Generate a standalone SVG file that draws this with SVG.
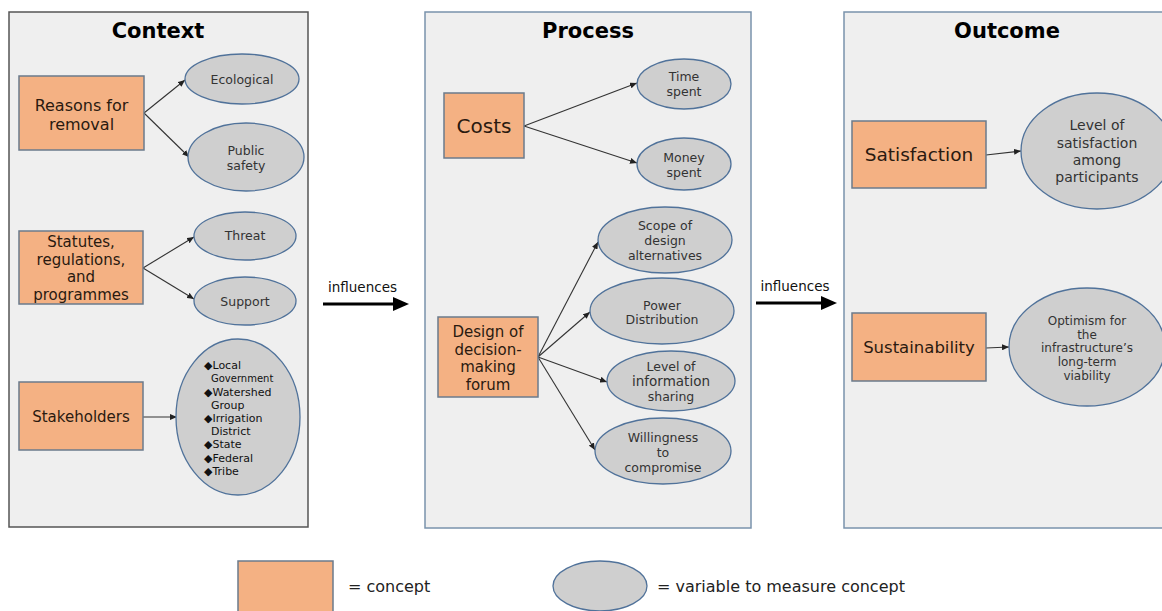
<svg xmlns="http://www.w3.org/2000/svg" width="1162" height="611" viewBox="0 0 1162 611">
<defs>
<style>
.panel{fill:#efefef;stroke:#7a93ac;stroke-width:1.5}
.panelc{fill:#efefef;stroke:#555;stroke-width:1.5}
.title{font-family:"DejaVu Sans",Verdana,sans-serif;font-weight:bold;font-size:21px;fill:#000;text-anchor:middle}
.concept{fill:#f4b183;stroke:#6b7b8c;stroke-width:1.5}
.var{fill:#cfcfcf;stroke:#50729a;stroke-width:1.3}
.ct{font-family:"DejaVu Sans",Verdana,sans-serif;fill:#2a1a10;text-anchor:middle;font-size:15px}
.vt{font-family:"DejaVu Sans",Verdana,sans-serif;fill:#333;text-anchor:middle;font-size:12.5px}
.lt{font-family:"DejaVu Sans",Verdana,sans-serif;fill:#111;font-size:11px}
.conn{stroke:#333;stroke-width:1.1;fill:none;marker-end:url(#ah)}
.big{stroke:#000;stroke-width:3;fill:none;marker-end:url(#bh)}
.inf{font-family:"DejaVu Sans",Verdana,sans-serif;fill:#111;font-size:13.5px;text-anchor:middle}
.leg{font-family:"DejaVu Sans",Verdana,sans-serif;fill:#222;font-size:16px}
</style>
<marker id="ah" markerUnits="userSpaceOnUse" markerWidth="7" markerHeight="6" refX="7" refY="3" orient="auto"><path d="M0,0 L7,3 L0,6 z" fill="#222"/></marker>
<marker id="bh" markerUnits="userSpaceOnUse" markerWidth="17" markerHeight="14" refX="7" refY="7" orient="auto"><path d="M0,0 L16,7 L0,14 z" fill="#000"/></marker>
</defs>
<rect width="1162" height="611" fill="#fff"/>

<g id="panel-context"><rect class="panelc" x="9" y="12" width="299" height="515"/><text class="title" x="158" y="38">Context</text></g>
<g id="panel-process"><rect class="panel" x="425" y="12" width="326" height="516"/><text class="title" x="588" y="38">Process</text></g>
<g id="panel-outcome"><rect class="panel" x="844" y="12" width="330" height="516"/><text class="title" x="1007" y="38">Outcome</text></g>

<g id="connectors">
<line class="conn" x1="144" y1="113" x2="185" y2="80"/>
<line class="conn" x1="144" y1="113" x2="189" y2="157"/>
<line class="conn" x1="143" y1="268" x2="194" y2="237"/>
<line class="conn" x1="143" y1="268" x2="194" y2="299"/>
<line class="conn" x1="143" y1="417" x2="177" y2="417"/>
<line class="conn" x1="524" y1="126" x2="637" y2="83"/>
<line class="conn" x1="524" y1="126" x2="637" y2="163"/>
<line class="conn" x1="538" y1="357" x2="598" y2="242"/>
<line class="conn" x1="538" y1="357" x2="590" y2="312"/>
<line class="conn" x1="538" y1="357" x2="607" y2="382"/>
<line class="conn" x1="538" y1="357" x2="595" y2="450"/>
<line class="conn" x1="986" y1="155" x2="1021" y2="151"/>
<line class="conn" x1="986" y1="348" x2="1009" y2="347"/>
<line class="big" x1="323" y1="304" x2="400" y2="304"/>
<line class="big" x1="756" y1="303" x2="828" y2="303"/>
</g>

<g id="label-influences-1"><text class="inf" x="362.5" y="292">influences</text></g>
<g id="label-influences-2"><text class="inf" x="795" y="291">influences</text></g>

<g id="reasons"><rect class="concept" x="19" y="76" width="125" height="74"/><text class="ct" font-size="16" x="81.5" y="111" style="font-size:16px">Reasons for</text><text class="ct" x="81.5" y="130" style="font-size:16px">removal</text></g>
<g id="ecological"><ellipse class="var" cx="242" cy="79" rx="57" ry="25"/><text class="vt" x="242" y="83.5">Ecological</text></g>
<g id="public-safety"><ellipse class="var" cx="246" cy="157" rx="58" ry="34"/><text class="vt" x="246" y="155">Public</text><text class="vt" x="246" y="170">safety</text></g>

<g id="statutes"><rect class="concept" x="19" y="231" width="124" height="73"/><text class="ct" x="81" y="247">Statutes,</text><text class="ct" x="81" y="264.5">regulations,</text><text class="ct" x="81" y="282">and</text><text class="ct" x="81" y="300">programmes</text></g>
<g id="threat"><ellipse class="var" cx="245" cy="236" rx="51" ry="24"/><text class="vt" x="245" y="240">Threat</text></g>
<g id="support"><ellipse class="var" cx="245" cy="301" rx="51" ry="24"/><text class="vt" x="245" y="305.5">Support</text></g>

<g id="stakeholders"><rect class="concept" x="19" y="382" width="124" height="68"/><text class="ct" x="81" y="422">Stakeholders</text></g>
<g id="stakeholder-list"><ellipse class="var" cx="238" cy="417" rx="62" ry="78"/>
<text class="lt" x="204" y="369">◆Local</text>
<text class="lt" x="211" y="382" style="font-size:10px">Government</text>
<text class="lt" x="204" y="395.5">◆Watershed</text>
<text class="lt" x="211" y="408.5">Group</text>
<text class="lt" x="204" y="422">◆Irrigation</text>
<text class="lt" x="211" y="435">District</text>
<text class="lt" x="204" y="448">◆State</text>
<text class="lt" x="204" y="461.5">◆Federal</text>
<text class="lt" x="204" y="474.5">◆Tribe</text></g>

<g id="costs"><rect class="concept" x="444" y="93" width="80" height="65"/><text class="ct" x="484" y="133" style="font-size:20px">Costs</text></g>
<g id="time-spent"><ellipse class="var" cx="684" cy="84" rx="47" ry="25"/><text class="vt" x="684" y="81">Time</text><text class="vt" x="684" y="96">spent</text></g>
<g id="money-spent"><ellipse class="var" cx="684" cy="164" rx="47" ry="26"/><text class="vt" x="684" y="162">Money</text><text class="vt" x="684" y="177">spent</text></g>

<g id="design"><rect class="concept" x="438" y="317" width="100" height="80"/><text class="ct" x="488" y="337">Design of</text><text class="ct" x="488" y="354.5">decision-</text><text class="ct" x="488" y="372">making</text><text class="ct" x="488" y="389.5">forum</text></g>
<g id="scope"><ellipse class="var" cx="665" cy="240" rx="67" ry="33"/><text class="vt" x="665" y="229.5">Scope of</text><text class="vt" x="665" y="244.5">design</text><text class="vt" x="665" y="259.5">alternatives</text></g>
<g id="power"><ellipse class="var" cx="662" cy="311" rx="72" ry="33"/><text class="vt" x="662" y="309.5">Power</text><text class="vt" x="662" y="324">Distribution</text></g>
<g id="info-sharing"><ellipse class="var" cx="671" cy="381" rx="64" ry="30"/><text class="vt" x="671" y="370.5">Level of</text><text class="vt" x="671" y="386" style="font-size:13.5px">information</text><text class="vt" x="671" y="401">sharing</text></g>
<g id="willingness"><ellipse class="var" cx="663" cy="451" rx="68" ry="33"/><text class="vt" x="663" y="441.5">Willingness</text><text class="vt" x="663" y="456.5">to</text><text class="vt" x="663" y="471.5">compromise</text></g>

<g id="satisfaction"><rect class="concept" x="852" y="121" width="134" height="67"/><text class="ct" x="919" y="161" style="font-size:18.5px">Satisfaction</text></g>
<g id="satisfaction-level"><ellipse class="var" cx="1097" cy="151" rx="76" ry="58"/><text class="vt" x="1097" y="130" style="font-size:14px">Level of</text><text class="vt" x="1097" y="148" style="font-size:14px">satisfaction</text><text class="vt" x="1097" y="165" style="font-size:14px">among</text><text class="vt" x="1097" y="182" style="font-size:14px">participants</text></g>

<g id="sustainability"><rect class="concept" x="852" y="313" width="134" height="68"/><text class="ct" x="919" y="353" style="font-size:16.5px">Sustainability</text></g>
<g id="optimism"><ellipse class="var" cx="1087" cy="347" rx="78" ry="59"/><text class="vt" x="1087" y="324.5" style="font-size:12px">Optimism for</text><text class="vt" x="1087" y="338.5" style="font-size:12px">the</text><text class="vt" x="1087" y="352" style="font-size:12px">infrastructure’s</text><text class="vt" x="1087" y="366" style="font-size:12px">long-term</text><text class="vt" x="1087" y="380" style="font-size:12px">viability</text></g>

<g id="legend-concept"><rect class="concept" x="238" y="561" width="95" height="52"/><text class="leg" x="348" y="592">= concept</text></g>
<g id="legend-variable"><ellipse class="var" cx="600" cy="586" rx="47" ry="25"/><text class="leg" x="657" y="592">= variable to measure concept</text></g>
</svg>
